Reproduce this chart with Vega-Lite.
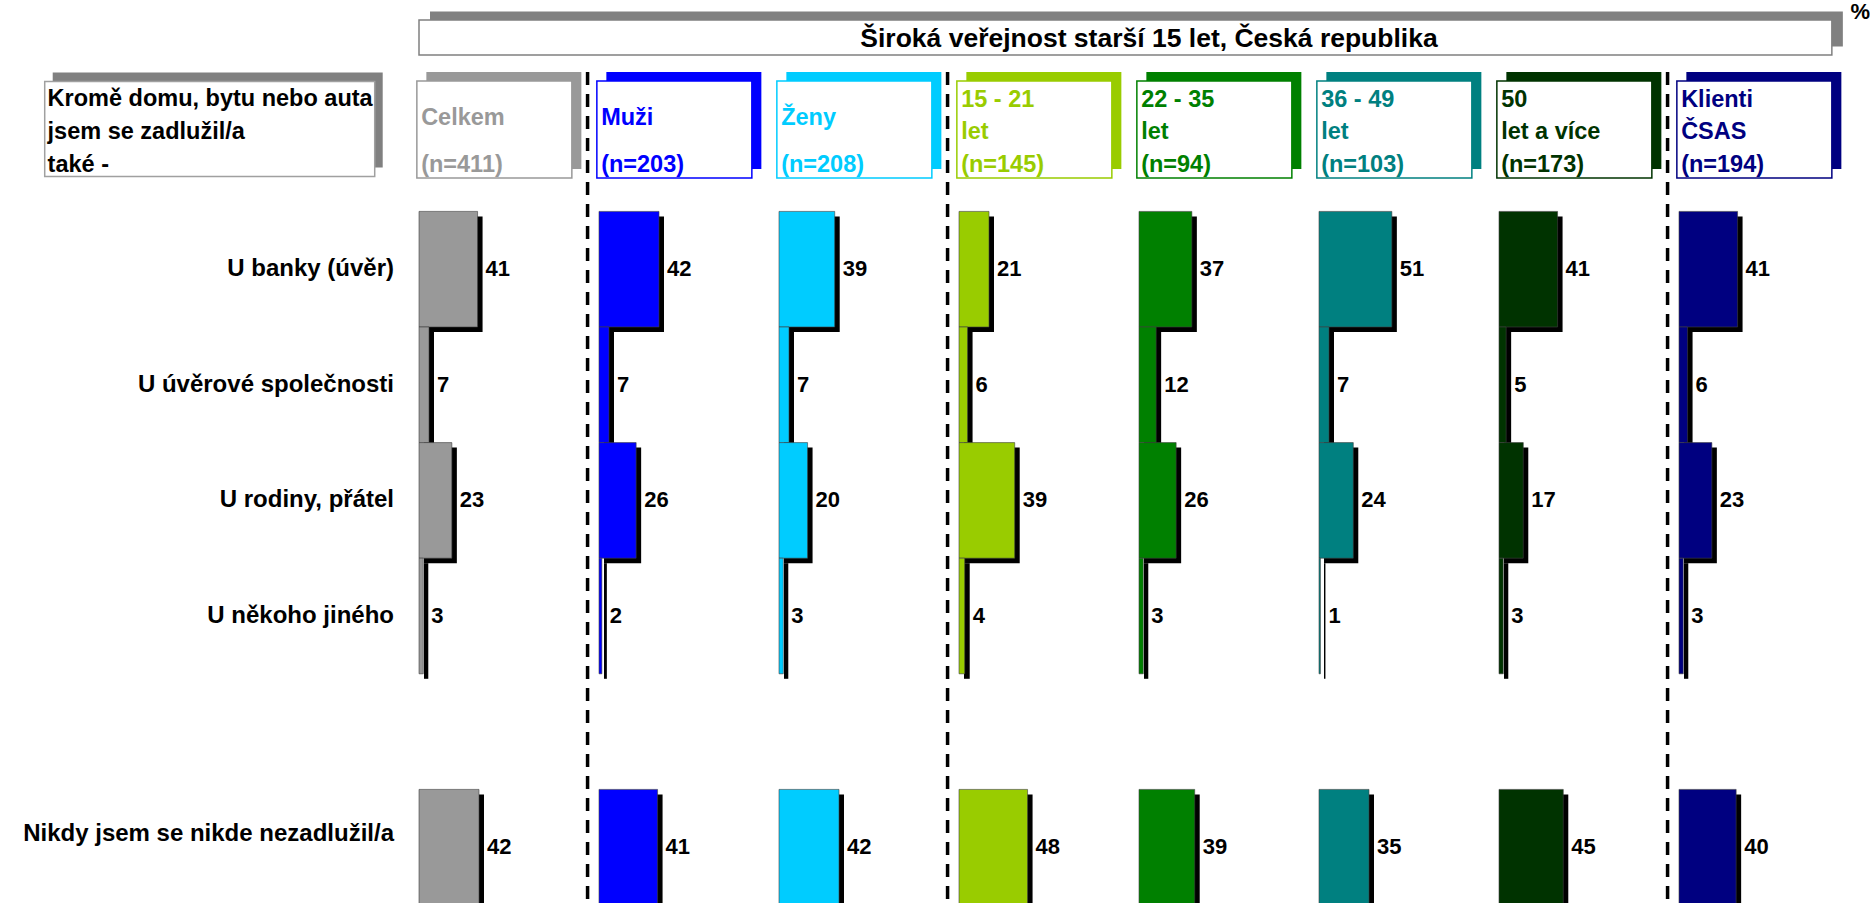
{
  "$schema": "https://vega.github.io/schema/vega-lite/v6.json",
  "padding": {"left": 23, "top": 0, "right": 0, "bottom": 0},
  "background": "white",
  "bounds": "flush",
  "spacing": 0,
  "config": {
    "view": {"stroke": null},
    "font": "Liberation Sans",
    "axis": {"disable": true},
    "legend": {"disable": true}
  },
  "data": {"values": [
    {"kind": "title", "group": "Celkem", "label": "Široká veřejnost starší 15 let, Česká republika"},
    {"kind": "pct", "group": "Celkem", "label": "%"},
    {"kind": "question", "group": "Celkem", "label": "Kromě domu, bytu nebo auta\njsem se zadlužil/a\ntaké -"},
    {"kind": "hdr", "group": "Celkem", "label": "Celkem", "n": "(n=411)"},
    {"kind": "hdr", "group": "Muži", "label": "Muži", "n": "(n=203)"},
    {"kind": "hdr", "group": "Ženy", "label": "Ženy", "n": "(n=208)"},
    {"kind": "hdr", "group": "15 - 21 let", "label": "15 - 21\nlet", "n": "(n=145)"},
    {"kind": "hdr", "group": "22 - 35 let", "label": "22 - 35\nlet", "n": "(n=94)"},
    {"kind": "hdr", "group": "36 - 49 let", "label": "36 - 49\nlet", "n": "(n=103)"},
    {"kind": "hdr", "group": "50 let a více", "label": "50\nlet a více", "n": "(n=173)"},
    {"kind": "hdr", "group": "Klienti ČSAS", "label": "Klienti\nČSAS", "n": "(n=194)"},
    {"kind": "bar", "group": "Celkem", "row": "U banky (úvěr)", "value": 41},
    {"kind": "bar", "group": "Celkem", "row": "U úvěrové společnosti", "value": 7},
    {"kind": "bar", "group": "Celkem", "row": "U rodiny, přátel", "value": 23},
    {"kind": "bar", "group": "Celkem", "row": "U někoho jiného", "value": 3},
    {"kind": "bar", "group": "Celkem", "row": "Nikdy jsem se nikde nezadlužil/a", "value": 42},
    {"kind": "bar", "group": "Muži", "row": "U banky (úvěr)", "value": 42},
    {"kind": "bar", "group": "Muži", "row": "U úvěrové společnosti", "value": 7},
    {"kind": "bar", "group": "Muži", "row": "U rodiny, přátel", "value": 26},
    {"kind": "bar", "group": "Muži", "row": "U někoho jiného", "value": 2},
    {"kind": "bar", "group": "Muži", "row": "Nikdy jsem se nikde nezadlužil/a", "value": 41},
    {"kind": "bar", "group": "Ženy", "row": "U banky (úvěr)", "value": 39},
    {"kind": "bar", "group": "Ženy", "row": "U úvěrové společnosti", "value": 7},
    {"kind": "bar", "group": "Ženy", "row": "U rodiny, přátel", "value": 20},
    {"kind": "bar", "group": "Ženy", "row": "U někoho jiného", "value": 3},
    {"kind": "bar", "group": "Ženy", "row": "Nikdy jsem se nikde nezadlužil/a", "value": 42},
    {"kind": "bar", "group": "15 - 21 let", "row": "U banky (úvěr)", "value": 21},
    {"kind": "bar", "group": "15 - 21 let", "row": "U úvěrové společnosti", "value": 6},
    {"kind": "bar", "group": "15 - 21 let", "row": "U rodiny, přátel", "value": 39},
    {"kind": "bar", "group": "15 - 21 let", "row": "U někoho jiného", "value": 4},
    {"kind": "bar", "group": "15 - 21 let", "row": "Nikdy jsem se nikde nezadlužil/a", "value": 48},
    {"kind": "bar", "group": "22 - 35 let", "row": "U banky (úvěr)", "value": 37},
    {"kind": "bar", "group": "22 - 35 let", "row": "U úvěrové společnosti", "value": 12},
    {"kind": "bar", "group": "22 - 35 let", "row": "U rodiny, přátel", "value": 26},
    {"kind": "bar", "group": "22 - 35 let", "row": "U někoho jiného", "value": 3},
    {"kind": "bar", "group": "22 - 35 let", "row": "Nikdy jsem se nikde nezadlužil/a", "value": 39},
    {"kind": "bar", "group": "36 - 49 let", "row": "U banky (úvěr)", "value": 51},
    {"kind": "bar", "group": "36 - 49 let", "row": "U úvěrové společnosti", "value": 7},
    {"kind": "bar", "group": "36 - 49 let", "row": "U rodiny, přátel", "value": 24},
    {"kind": "bar", "group": "36 - 49 let", "row": "U někoho jiného", "value": 1},
    {"kind": "bar", "group": "36 - 49 let", "row": "Nikdy jsem se nikde nezadlužil/a", "value": 35},
    {"kind": "bar", "group": "50 let a více", "row": "U banky (úvěr)", "value": 41},
    {"kind": "bar", "group": "50 let a více", "row": "U úvěrové společnosti", "value": 5},
    {"kind": "bar", "group": "50 let a více", "row": "U rodiny, přátel", "value": 17},
    {"kind": "bar", "group": "50 let a více", "row": "U někoho jiného", "value": 3},
    {"kind": "bar", "group": "50 let a více", "row": "Nikdy jsem se nikde nezadlužil/a", "value": 45},
    {"kind": "bar", "group": "Klienti ČSAS", "row": "U banky (úvěr)", "value": 41},
    {"kind": "bar", "group": "Klienti ČSAS", "row": "U úvěrové společnosti", "value": 6},
    {"kind": "bar", "group": "Klienti ČSAS", "row": "U rodiny, přátel", "value": 23},
    {"kind": "bar", "group": "Klienti ČSAS", "row": "U někoho jiného", "value": 3},
    {"kind": "bar", "group": "Klienti ČSAS", "row": "Nikdy jsem se nikde nezadlužil/a", "value": 40}
  ]},
  "facet": {
    "column": {
      "field": "group",
      "type": "nominal",
      "sort": ["Celkem", "Muži", "Ženy", "15 - 21 let", "22 - 35 let", "36 - 49 let", "50 let a více", "Klienti ČSAS"],
      "header": null
    }
  },
  "spec": {
    "width": 180,
    "height": 903,
    "layer": [
      {
        "transform": [{"filter": "datum.kind === 'title'"}],
        "mark": {"type": "bar", "height": 35, "xOffset": 11, "x2Offset": 11, "yOffset": -124.5, "fill": "#808080"},
        "encoding": {
          "x": {"datum": 0, "type": "quantitative", "scale": {"domain": [0, 126], "nice": false, "zero": false}, "axis": null},
          "x2": {"datum": 989},
          "y": {"datum": "hdr", "type": "nominal", "axis": null,
                "scale": {"domain": ["hdr", "U banky (úvěr)", "U úvěrové společnosti", "U rodiny, přátel", "U někoho jiného", "gap", "Nikdy jsem se nikde nezadlužil/a"], "paddingInner": 0, "paddingOuter": 0.4057, "align": 1}}
        }
      },
      {
        "transform": [{"filter": "datum.kind === 'title'"}],
        "mark": {"type": "bar", "height": 35, "yOffset": -116, "fill": "white", "stroke": "#808080", "strokeWidth": 1.5},
        "encoding": {
          "x": {"datum": 0, "type": "quantitative"},
          "x2": {"datum": 989},
          "y": {"datum": "hdr", "type": "nominal"}
        }
      },
      {
        "transform": [{"filter": "datum.kind === 'title'"}],
        "mark": {"type": "text", "align": "center", "baseline": "middle", "fontSize": 26.5, "fontWeight": "bold", "color": "black", "yOffset": -114.5},
        "encoding": {
          "x": {"datum": 511, "type": "quantitative"},
          "y": {"datum": "hdr", "type": "nominal"},
          "text": {"field": "label"}
        }
      },
      {
        "transform": [{"filter": "datum.kind === 'pct'"}],
        "mark": {"type": "text", "align": "left", "baseline": "top", "fontSize": 22, "fontWeight": "bold", "color": "black", "yOffset": -151.6},
        "encoding": {
          "x": {"datum": 1002, "type": "quantitative"},
          "y": {"datum": "hdr", "type": "nominal"},
          "text": {"field": "label"}
        }
      },
      {
        "transform": [{"filter": "datum.kind === 'question'"}],
        "mark": {"type": "bar", "height": 95, "xOffset": 8, "x2Offset": 8, "yOffset": -33.6, "fill": "#808080"},
        "encoding": {
          "x": {"datum": -262, "type": "quantitative"},
          "x2": {"datum": -31},
          "y": {"datum": "hdr", "type": "nominal"}
        }
      },
      {
        "transform": [{"filter": "datum.kind === 'question'"}],
        "mark": {"type": "bar", "height": 95, "yOffset": -24.6, "fill": "white", "stroke": "#a0a0a0", "strokeWidth": 1.5},
        "encoding": {
          "x": {"datum": -262, "type": "quantitative"},
          "x2": {"datum": -31},
          "y": {"datum": "hdr", "type": "nominal"}
        }
      },
      {
        "transform": [{"filter": "datum.kind === 'question'"}],
        "mark": {"type": "text", "align": "left", "baseline": "middle", "fontSize": 23.5, "fontWeight": "bold", "color": "black", "lineBreak": "\n", "lineHeight": 33, "yOffset": -54.6},
        "encoding": {
          "x": {"datum": -260, "type": "quantitative"},
          "y": {"datum": "hdr", "type": "nominal"},
          "text": {"field": "label"}
        }
      },
      {
        "transform": [{"filter": "datum.kind === 'hdr'"}],
        "mark": {"type": "bar", "height": 97, "xOffset": 9.5, "x2Offset": 9.5, "yOffset": -33},
        "encoding": {
          "x": {"datum": -1.5, "type": "quantitative"},
          "x2": {"datum": 107},
          "y": {"datum": "hdr", "type": "nominal"},
          "color": {"field": "group", "type": "nominal", "legend": null,
                    "scale": {"domain": ["Celkem", "Muži", "Ženy", "15 - 21 let", "22 - 35 let", "36 - 49 let", "50 let a více", "Klienti ČSAS"],
                              "range": ["#999999", "#0000ff", "#00ccff", "#99cc00", "#008000", "#008080", "#003300", "#000080"]}}
        }
      },
      {
        "transform": [{"filter": "datum.kind === 'hdr'"}],
        "mark": {"type": "bar", "height": 97, "yOffset": -24, "fill": "white", "strokeWidth": 1.5},
        "encoding": {
          "x": {"datum": -1.5, "type": "quantitative"},
          "x2": {"datum": 107},
          "y": {"datum": "hdr", "type": "nominal"},
          "stroke": {"field": "group", "type": "nominal", "legend": null,
                     "scale": {"domain": ["Celkem", "Muži", "Ženy", "15 - 21 let", "22 - 35 let", "36 - 49 let", "50 let a více", "Klienti ČSAS"],
                               "range": ["#999999", "#0000ff", "#00ccff", "#99cc00", "#008000", "#008080", "#003300", "#000080"]}}
        }
      },
      {
        "transform": [{"filter": "datum.kind === 'hdr' && indexof(datum.label, '\\n') < 0"}],
        "mark": {"type": "text", "align": "left", "baseline": "middle", "fontSize": 23.5, "fontWeight": "bold", "yOffset": -36},
        "encoding": {
          "x": {"datum": 1.5, "type": "quantitative"},
          "y": {"datum": "hdr", "type": "nominal"},
          "text": {"field": "label"},
          "color": {"field": "group", "type": "nominal", "legend": null}
        }
      },
      {
        "transform": [{"filter": "datum.kind === 'hdr' && indexof(datum.label, '\\n') >= 0"}],
        "mark": {"type": "text", "align": "left", "baseline": "middle", "fontSize": 23.5, "fontWeight": "bold", "lineBreak": "\n", "lineHeight": 32.5, "yOffset": -54},
        "encoding": {
          "x": {"datum": 1.5, "type": "quantitative"},
          "y": {"datum": "hdr", "type": "nominal"},
          "text": {"field": "label"},
          "color": {"field": "group", "type": "nominal", "legend": null}
        }
      },
      {
        "transform": [{"filter": "datum.kind === 'hdr'"}],
        "mark": {"type": "text", "align": "left", "baseline": "middle", "fontSize": 23.5, "fontWeight": "bold", "yOffset": 11.4},
        "encoding": {
          "x": {"datum": 1.5, "type": "quantitative"},
          "y": {"datum": "hdr", "type": "nominal"},
          "text": {"field": "n"},
          "color": {"field": "group", "type": "nominal", "legend": null}
        }
      },
      {
        "transform": [{"filter": "datum.kind === 'hdr' && indexof(['Muži', '15 - 21 let', 'Klienti ČSAS'], datum.group) >= 0"}],
        "mark": {"type": "rule", "strokeDash": [13, 9], "strokeWidth": 3.5, "color": "black", "yOffset": -81.6, "y2Offset": 58},
        "encoding": {
          "x": {"datum": -8, "type": "quantitative"},
          "y": {"datum": "hdr", "type": "nominal"},
          "y2": {"datum": "Nikdy jsem se nikde nezadlužil/a"}
        }
      },
      {
        "transform": [{"filter": "datum.kind === 'bar'"}],
        "mark": {"type": "bar", "fill": "black", "xOffset": 5, "x2Offset": 5, "yOffset": 5, "y2Offset": 5},
        "encoding": {
          "x": {"field": "value", "type": "quantitative"},
          "y": {"field": "row", "type": "nominal"}
        }
      },
      {
        "transform": [{"filter": "datum.kind === 'bar'"}],
        "mark": {"type": "bar", "stroke": "#404040", "strokeWidth": 1, "strokeOpacity": 0.6},
        "encoding": {
          "x": {"field": "value", "type": "quantitative"},
          "y": {"field": "row", "type": "nominal"},
          "color": {"field": "group", "type": "nominal", "legend": null}
        }
      },
      {
        "transform": [{"filter": "datum.kind === 'bar'"}],
        "mark": {"type": "text", "align": "left", "baseline": "middle", "dx": 8, "fontSize": 22, "fontWeight": "bold", "color": "black"},
        "encoding": {
          "x": {"field": "value", "type": "quantitative"},
          "y": {"field": "row", "type": "nominal"},
          "text": {"field": "value", "type": "quantitative"}
        }
      },
      {
        "transform": [{"filter": "datum.kind === 'bar' && datum.group === 'Celkem' && datum.row !== 'Nikdy jsem se nikde nezadlužil/a'"}],
        "mark": {"type": "text", "align": "right", "baseline": "middle", "fontSize": 24, "fontWeight": "bold", "color": "black"},
        "encoding": {
          "x": {"datum": -17.5, "type": "quantitative"},
          "y": {"field": "row", "type": "nominal"},
          "text": {"field": "row"}
        }
      },
      {
        "transform": [{"filter": "datum.kind === 'bar' && datum.group === 'Celkem' && datum.row === 'Nikdy jsem se nikde nezadlužil/a'"}],
        "mark": {"type": "text", "align": "right", "baseline": "middle", "fontSize": 24, "fontWeight": "bold", "color": "black", "dy": -13},
        "encoding": {
          "x": {"datum": -17.5, "type": "quantitative"},
          "y": {"field": "row", "type": "nominal"},
          "text": {"field": "row"}
        }
      }
    ]
  }
}
